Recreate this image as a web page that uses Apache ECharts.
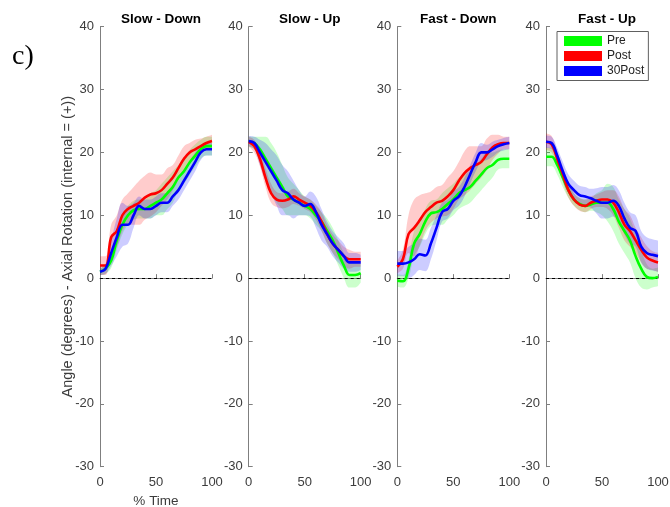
<!DOCTYPE html>
<html>
<head>
<meta charset="utf-8">
<script src="https://cdn.jsdelivr.net/npm/echarts@6/dist/echarts.min.js"></script>
<style>
  html, body { margin: 0; padding: 0; background: #fff; }
  #chart { width: 670px; height: 507px; }
</style>
</head>
<body>
<div id="chart"></div>
<script>
// % of movement time, sampled every 5 %
const timePct = [0, 5, 10, 15, 20, 25, 30, 35, 40, 45, 50, 55, 60, 65, 70, 75, 80, 85, 90, 95, 100];
const xTickLabels = ['0', '50', '100'];
const yTicks = [-30, -20, -10, 0, 10, 20, 30, 40];

const panelTitles = ['Slow - Down', 'Slow - Up', 'Fast - Down', 'Fast - Up'];
const groupNames = ['Pre', 'Post', '30Post'];

// Slow - Down : mean axial rotation (deg) and band half-width
const slowDownPre     = [1.0, 1.5, 2.8, 6.0, 8.5, 10.0, 10.8, 11.0, 11.0, 11.5, 12.0, 12.5, 13.5, 14.5, 16.0, 17.0, 18.4, 19.5, 20.5, 21.0, 21.0];
const slowDownPost    = [2.0, 2.0, 6.5, 7.5, 10.0, 11.0, 11.5, 12.0, 12.8, 13.3, 13.5, 14.0, 15.0, 16.0, 17.5, 19.0, 20.0, 20.5, 21.0, 21.5, 21.8];
const slowDown30Post  = [1.0, 1.5, 4.0, 6.5, 8.5, 8.5, 10.0, 11.5, 11.0, 11.0, 11.5, 12.0, 12.0, 13.0, 14.0, 15.5, 17.0, 18.5, 20.0, 20.5, 20.5];
const slowDownPreSd   = [0.5, 0.8, 1.2, 1.5, 1.5, 1.5, 1.5, 1.5, 1.5, 2.0, 2.0, 2.5, 2.5, 2.5, 2.0, 2.0, 2.0, 1.8, 1.5, 1.5, 1.5];
const slowDownPostSd  = [1.5, 1.5, 2.0, 2.5, 2.5, 2.5, 3.0, 3.5, 3.5, 3.5, 3.0, 2.5, 2.5, 2.0, 2.0, 2.0, 1.5, 1.5, 1.2, 1.0, 1.0];
const slowDown30PostSd= [0.5, 0.8, 2.0, 3.0, 3.5, 3.0, 2.0, 1.5, 1.5, 1.5, 1.5, 1.5, 1.5, 1.5, 1.5, 1.5, 1.5, 1.5, 1.2, 1.0, 1.0];

// Slow - Up
const slowUpPre       = [21.7, 21.5, 20.5, 19.0, 17.5, 16.0, 14.5, 13.0, 12.5, 12.0, 11.5, 11.0, 10.0, 9.0, 7.5, 6.0, 4.0, 2.0, 0.5, 0.5, 0.8];
const slowUpPost      = [21.7, 21.0, 19.0, 16.0, 13.5, 12.5, 12.3, 12.5, 13.0, 12.5, 12.0, 11.5, 10.5, 9.0, 7.0, 5.5, 4.5, 3.5, 3.0, 3.0, 3.0];
const slowUp30Post    = [21.8, 21.5, 20.0, 18.5, 17.0, 15.5, 14.0, 13.5, 12.5, 12.0, 11.5, 11.8, 10.5, 8.5, 7.0, 5.5, 4.5, 3.5, 2.5, 2.5, 2.5];
const slowUpPreSd     = [0.8, 1.0, 2.0, 3.5, 4.0, 4.0, 3.5, 3.0, 2.5, 2.0, 1.5, 1.5, 1.5, 1.5, 2.0, 2.0, 2.0, 2.0, 2.0, 2.0, 1.5];
const slowUpPostSd    = [0.8, 1.0, 1.2, 1.5, 1.5, 1.2, 1.2, 1.2, 1.2, 1.0, 1.0, 1.0, 1.2, 1.5, 1.5, 1.5, 1.5, 1.5, 1.5, 1.2, 1.2];
const slowUp30PostSd  = [0.8, 1.0, 2.0, 3.0, 3.5, 4.0, 4.0, 3.5, 3.0, 2.0, 1.5, 2.0, 2.5, 2.5, 2.0, 2.0, 2.0, 2.0, 1.5, 1.5, 1.2];

// Fast - Down
const fastDownPre     = [-0.4, -0.5, 1.5, 5.5, 7.0, 9.0, 10.3, 10.5, 11.0, 11.8, 12.5, 13.5, 14.0, 14.5, 15.5, 16.5, 17.5, 18.0, 18.8, 19.0, 19.0];
const fastDownPost    = [1.8, 3.0, 7.0, 8.0, 9.2, 10.5, 11.3, 12.0, 12.3, 13.0, 14.0, 15.5, 16.7, 17.5, 18.0, 18.5, 19.7, 20.8, 21.3, 21.5, 21.5];
const fastDown30Post  = [2.3, 2.3, 2.5, 3.0, 3.8, 3.6, 5.5, 8.0, 10.5, 11.0, 12.3, 13.0, 14.5, 16.5, 18.5, 20.0, 20.0, 20.5, 21.0, 21.3, 21.5];
const fastDownPreSd   = [1.0, 1.0, 1.5, 2.0, 2.0, 2.0, 2.0, 2.0, 2.5, 2.5, 2.5, 2.5, 2.5, 2.5, 2.5, 2.5, 2.5, 2.0, 1.5, 1.5, 1.5];
const fastDownPostSd  = [1.0, 1.5, 3.0, 4.5, 4.0, 3.0, 2.5, 2.5, 2.5, 3.0, 3.0, 3.0, 3.5, 3.5, 3.0, 2.5, 2.5, 2.0, 1.5, 1.0, 1.0];
const fastDown30PostSd= [2.0, 2.0, 2.5, 2.5, 2.5, 2.5, 2.5, 2.0, 1.5, 1.5, 1.5, 1.5, 1.5, 1.5, 1.5, 1.5, 1.2, 1.2, 1.0, 1.0, 1.0];

// Fast - Up
const fastUpPre       = [19.3, 19.3, 18.0, 16.0, 14.0, 12.5, 11.8, 11.5, 11.7, 12.0, 12.0, 12.0, 11.0, 9.0, 7.5, 6.0, 3.5, 1.5, 0.2, 0.0, 0.2];
const fastUpPost      = [21.7, 21.3, 19.0, 16.5, 14.0, 12.5, 11.7, 11.5, 12.0, 12.3, 12.5, 12.5, 12.0, 10.5, 8.5, 7.5, 6.0, 4.5, 3.3, 2.8, 2.5];
const fastUp30Post    = [21.7, 21.5, 19.5, 17.0, 15.0, 14.0, 13.2, 13.0, 12.7, 12.3, 12.0, 12.0, 12.3, 11.5, 9.5, 8.0, 7.5, 5.0, 4.0, 3.7, 3.5];
const fastUpPreSd     = [1.5, 1.5, 1.5, 1.5, 1.2, 1.0, 1.0, 1.0, 1.0, 1.5, 2.0, 3.0, 3.5, 3.5, 3.5, 3.5, 3.5, 3.0, 2.0, 1.5, 1.5];
const fastUpPostSd    = [1.3, 1.3, 1.2, 1.2, 1.2, 1.0, 1.0, 1.0, 1.0, 1.0, 1.2, 1.5, 2.0, 2.5, 2.5, 2.5, 2.0, 2.0, 1.8, 1.5, 1.5];
const fastUp30PostSd  = [1.0, 1.0, 1.2, 1.5, 1.5, 1.5, 1.5, 1.5, 1.5, 2.0, 2.5, 2.5, 2.5, 2.5, 2.5, 2.5, 2.5, 2.5, 2.5, 2.5, 2.5];

const panelMeans = [
  [slowDownPre, slowDownPost, slowDown30Post],
  [slowUpPre, slowUpPost, slowUp30Post],
  [fastDownPre, fastDownPost, fastDown30Post],
  [fastUpPre, fastUpPost, fastUp30Post]
];
const panelSpreads = [
  [slowDownPreSd, slowDownPostSd, slowDown30PostSd],
  [slowUpPreSd, slowUpPostSd, slowUp30PostSd],
  [fastDownPreSd, fastDownPostSd, fastDown30PostSd],
  [fastUpPreSd, fastUpPostSd, fastUp30PostSd]
];

const groupColors = ['#00ff00', '#ff0000', '#0000ff'];
const FONT = '"Liberation Sans", Arial, Helvetica, sans-serif';
const AXIS_COLOR = '#7f7f7f';
const LABEL_COLOR = '#3c3c3c';

const gridLefts = [100, 248.7, 397.3, 546];
const GRID_W = 112;
const GRID_TOP = 26.7;
const GRID_H = 440;

const grids = [], xAxes = [], yAxes = [], titles = [], series = [];

gridLefts.forEach(function (left, p) {
  grids.push({
    left: left, top: GRID_TOP, width: GRID_W, height: GRID_H,
    containLabel: false, outerBoundsMode: 'none'
  });
  titles.push({
    text: panelTitles[p],
    left: left + GRID_W / 2,
    textAlign: 'center',
    top: 7,
    textStyle: { fontFamily: FONT, fontSize: 13.5, fontWeight: 'bold', color: '#000' }
  });
  const showTick = function (idx) { return timePct[idx] % 50 === 0; };
  xAxes.push({
    type: 'category',
    gridIndex: p,
    data: timePct.map(String),
    boundaryGap: false,
    axisLine: { lineStyle: { color: AXIS_COLOR, width: 1 } },
    axisTick: { inside: true, length: 4, interval: showTick, lineStyle: { color: AXIS_COLOR } },
    axisLabel: {
      interval: showTick,
      margin: 9,
      color: LABEL_COLOR,
      fontFamily: FONT,
      fontSize: 13,
      formatter: function (v) { return xTickLabels.indexOf(v) >= 0 ? v : ''; }
    },
    splitLine: { show: false },
    name: p === 0 ? '% Time' : '',
    nameLocation: 'middle',
    nameGap: 28,
    nameMoveOverlap: false,
    nameTextStyle: { fontFamily: FONT, fontSize: 13.5, color: LABEL_COLOR }
  });
  yAxes.push({
    type: 'value',
    gridIndex: p,
    min: yTicks[0],
    max: yTicks[yTicks.length - 1],
    interval: 10,
    axisLine: { show: true, lineStyle: { color: AXIS_COLOR, width: 1 } },
    axisTick: { show: true, inside: true, length: 4, lineStyle: { color: AXIS_COLOR } },
    axisLabel: { margin: 6, color: LABEL_COLOR, fontFamily: FONT, fontSize: 13 },
    splitLine: { show: false },
    name: p === 0 ? 'Angle (degrees) - Axial Rotation (internal = (+))' : '',
    nameLocation: 'middle',
    nameRotate: 90,
    nameGap: 25,
    nameMoveOverlap: false,
    nameTextStyle: { fontFamily: FONT, fontSize: 14.5, color: LABEL_COLOR }
  });

  // shaded variability bands: transparent lower edge + stacked band width
  panelMeans[p].forEach(function (mean, g) {
    const sd = panelSpreads[p][g];
    const lower = mean.map(function (v, i) { return v - sd[i]; });
    const width = sd.map(function (s) { return 2 * s; });
    const stackId = 'band-' + p + '-' + g;
    series.push({
      type: 'line', xAxisIndex: p, yAxisIndex: p,
      stack: stackId, stackStrategy: 'all',
      data: lower, smooth: 0.4, symbol: 'none', silent: true,
      lineStyle: { opacity: 0 }, z: 1
    });
    series.push({
      type: 'line', xAxisIndex: p, yAxisIndex: p,
      stack: stackId, stackStrategy: 'all',
      data: width, smooth: 0.4, symbol: 'none', silent: true,
      lineStyle: { opacity: 0 },
      areaStyle: { color: groupColors[g], opacity: 0.2 }, z: 1
    });
  });

  // group mean curves
  panelMeans[p].forEach(function (mean, g) {
    const s = {
      type: 'line', name: groupNames[g], xAxisIndex: p, yAxisIndex: p,
      data: mean, smooth: 0.4, symbol: 'none',
      color: groupColors[g],
      lineStyle: { color: groupColors[g], width: 2.6 },
      z: 3
    };
    if (g === 0) {
      s.markLine = {
        silent: true, symbol: 'none',
        label: { show: false },
        lineStyle: { color: '#000', type: [3, 3], width: 1 },
        data: [{ yAxis: 0 }],
        z: 2
      };
    }
    series.push(s);
  });
});

const chart = echarts.init(document.getElementById('chart'), null, { renderer: 'canvas' });
chart.setOption({
  animation: false,
  backgroundColor: '#fff',
  title: titles,
  grid: grids,
  xAxis: xAxes,
  yAxis: yAxes,
  legend: {
    data: groupNames,
    orient: 'vertical',
    left: 557,
    top: 31.5,
    icon: 'rect',
    itemWidth: 38,
    itemHeight: 10,
    itemGap: 2,
    padding: [3, 4, 3, 7],
    backgroundColor: '#fff',
    borderColor: '#606060',
    borderWidth: 1,
    borderRadius: 0,
    textStyle: { fontFamily: FONT, fontSize: 12, color: '#222', lineHeight: 13 }
  },
  graphic: [{
    type: 'text',
    left: 12,
    top: 43,
    style: { text: 'c)', font: '28px "Liberation Serif", "Times New Roman", serif', fill: '#000' }
  }],
  series: series
});
</script>
</body>
</html>
